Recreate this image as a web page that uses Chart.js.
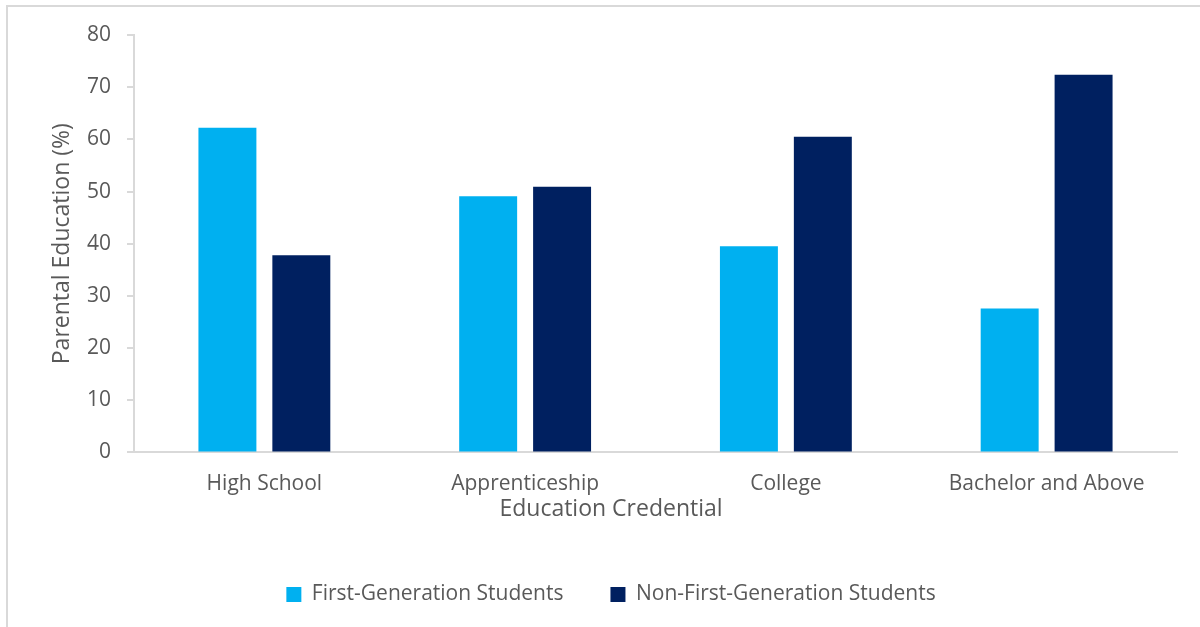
<!DOCTYPE html>
<html>
<head>
<meta charset="utf-8">
<script src="https://cdn.jsdelivr.net/npm/chart.js@4.4.1/dist/chart.umd.min.js"></script>
<style>
  html, body { margin: 0; padding: 0; background: #fff; }
  #wrap { position: relative; width: 1200px; height: 627px; overflow: hidden; }
  #frame {
    position: absolute; left: 6px; top: 5px; width: 1300px; height: 700px;
    border-left: 2px solid #d9d9d9; border-top: 2px solid #d9d9d9;
    pointer-events: none;
  }
  canvas { position: absolute; left: 0; top: 0; }
</style>
</head>
<body>
<div id="wrap">
  <canvas id="chart" width="1200" height="627"></canvas>
  <div id="frame"></div>
</div>
<script>
// share of parents holding each credential, by student group
const credentials = ["High School", "Apprenticeship", "College", "Bachelor and Above"];
const firstGen = [62.2, 49.1, 39.5, 27.6];
const nonFirstGen = [37.8, 50.9, 60.5, 72.4];
const seriesNames = ["First-Generation Students", "Non-First-Generation Students"];

const textColor = "#595959";
const lineColor = "#d9d9d9";
const fontFamily = "'Open Sans', 'Noto Sans', sans-serif";

new Chart(document.getElementById("chart"), {
  type: "bar",
  data: {
    labels: credentials,
    datasets: [
      { label: seriesNames[0], data: firstGen, backgroundColor: "#00b0f0" },
      { label: seriesNames[1], data: nonFirstGen, backgroundColor: "#002060" }
    ]
  },
  options: {
    responsive: false,
    animation: false,
    barPercentage: 0.784,
    categoryPercentage: 0.567,
    layout: { padding: { left: 45, right: 23, top: 35, bottom: 12 } },
    scales: {
      x: {
        grid: { display: false, drawTicks: false },
        border: { display: true, color: lineColor, width: 2 },
        ticks: { color: textColor, font: { family: fontFamily, size: 21 }, padding: 19 },
        afterFit: scale => { scale.height = 43; }
      },
      y: {
        min: 0,
        max: 80,
        ticks: { stepSize: 10, color: textColor, font: { family: fontFamily, size: 21 }, padding: 16 },
        grid: { display: true, drawOnChartArea: false, drawTicks: true, tickLength: 7, color: lineColor, lineWidth: 2 },
        border: { display: true, color: lineColor, width: 2 },
        title: {
          display: true,
          text: "Parental Education (%)",
          color: textColor,
          font: { family: fontFamily, size: 23 },
          padding: { top: 4, bottom: 0 }
        },
        afterFit: scale => { scale.width = 89; }
      }
    },
    plugins: {
      tooltip: { enabled: false },
      title: {
        display: true,
        position: "bottom",
        weight: 500,
        text: "Education Credential",
        color: textColor,
        font: { family: fontFamily, size: 23, weight: "normal" },
        padding: { top: 0, bottom: 14 }
      },
      legend: {
        position: "bottom",
        labels: {
          color: textColor,
          font: { family: fontFamily, size: 21 },
          boxWidth: 15,
          boxHeight: 15,
          padding: 47
        }
      }
    }
  }
});
</script>
</body>
</html>
